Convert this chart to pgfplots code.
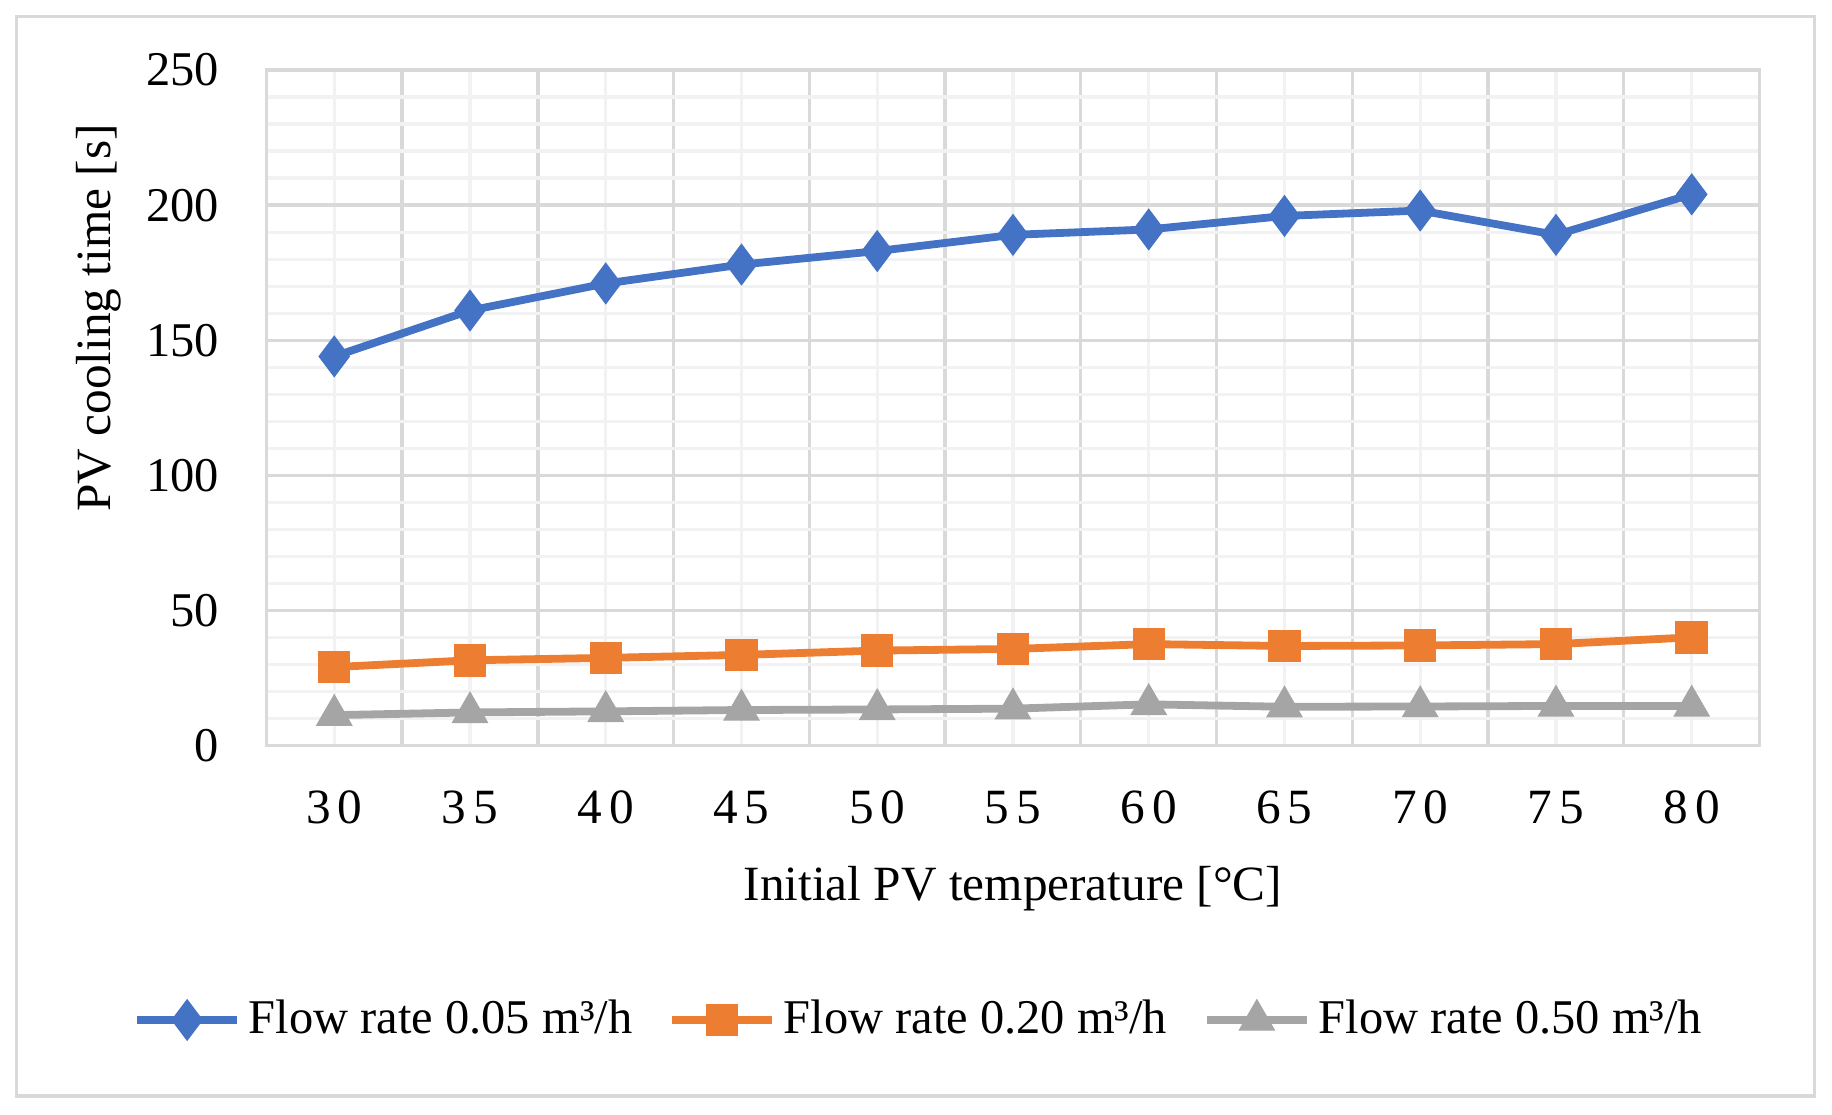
\documentclass[border=0pt]{standalone}
\usepackage{fontspec}
\setmainfont{Liberation Serif}
\newfontfamily\spacedfont[LetterSpace=14]{Liberation Serif}
\usepackage{pgfplots}
\pgfplotsset{compat=1.18}
\definecolor{cBlue}{HTML}{4472C4}
\definecolor{cOrange}{HTML}{ED7D31}
\definecolor{cGray}{HTML}{A5A5A5}
\definecolor{gMaj}{HTML}{D9D9D9}
\definecolor{gMin}{HTML}{F2F2F2}
\begin{document}
\fontsize{12}{14}\selectfont
\begin{tikzpicture}
\path[use as bounding box] (0,0) rectangle (15.68,9.54);
\draw[gMaj, line width=0.8pt] (0.14,0.16) rectangle (15.53,9.40);
\begin{axis}[
 at={(2.28cm,3.16cm)}, anchor=south west,
 scale only axis, width=12.78cm, height=5.78cm,
 xmin=27.5, xmax=82.5, ymin=0, ymax=250,
 xtick={30,35,40,45,50,55,60,65,70,75,80},
 xticklabels={30,35,40,45,50,55,60,65,70,75,80},
 minor xtick={32.5,37.5,42.5,47.5,52.5,57.5,62.5,67.5,72.5,77.5},
 ytick={0,50,100,150,200,250}, minor y tick num=4,
 grid=both,
 major x grid style={gMin, line width=0.8pt},
 minor x grid style={gMaj, line width=0.8pt},
 major y grid style={gMaj, line width=0.8pt},
 minor y grid style={gMin, line width=0.8pt},
 axis line style={gMaj, line width=0.8pt},
 major tick length=0pt, minor tick length=0pt,
 tick style={draw=none},
 /pgf/number format/assume math mode=true,
 yticklabel style={inner sep=0pt, anchor=east, xshift=-0.40cm, font=\fontsize{11.8}{14}\selectfont},
 xticklabel style={inner sep=0pt, anchor=base, yshift=-0.67cm, font=\spacedfont},
 xlabel={Initial PV temperature [°C]},
 ylabel={PV cooling time [s]},
 xlabel style={at={(axis description cs:0.5,-0.230)}, anchor=base},
 ylabel style={at={(axis description cs:-0.112,0.633)}, anchor=center},
 legend columns=3,
 legend cell align=left,
 legend style={at={(axis description cs:0.439,-0.4066)}, anchor=center, draw=none, fill=none,
   font=\fontsize{11.8}{14}\selectfont,
   /tikz/every even column/.append style={column sep=0.24cm}},
 legend image code/.code={
   \draw[mark repeat=2,mark phase=2,#1] plot coordinates {(0cm,0cm) (0.425cm,0cm) (0.85cm,0cm)};
 },
]
\addplot[cBlue, line width=1.9pt, mark=diamond*, mark size=4.9pt, mark options={line width=0.3pt, fill=cBlue, draw=cBlue}]
 coordinates {(30,144) (35,161) (40,171) (45,178) (50,183) (55,189) (60,191) (65,196) (70,198) (75,189) (80,204)};
\addlegendentry{Flow rate 0.05 m³/h}
\addplot[cOrange, line width=1.9pt, mark=square*, mark size=3.8pt, mark options={line width=0.3pt, fill=cOrange, draw=cOrange}]
 coordinates {(30,29.0) (35,31.5) (40,32.4) (45,33.5) (50,35.1) (55,35.7) (60,37.5) (65,36.8) (70,37.0) (75,37.5) (80,40.0)};
\addlegendentry{Flow rate 0.20 m³/h}
\addplot[cGray, line width=1.9pt, mark=triangle*, mark size=4.9pt, mark options={line width=0.3pt, fill=cGray, draw=cGray}]
 coordinates {(30,11.2) (35,12.2) (40,12.6) (45,13.1) (50,13.3) (55,13.6) (60,15.2) (65,14.3) (70,14.4) (75,14.6) (80,14.6)};
\addlegendentry{Flow rate 0.50 m³/h}
\end{axis}
\end{tikzpicture}
\end{document}
